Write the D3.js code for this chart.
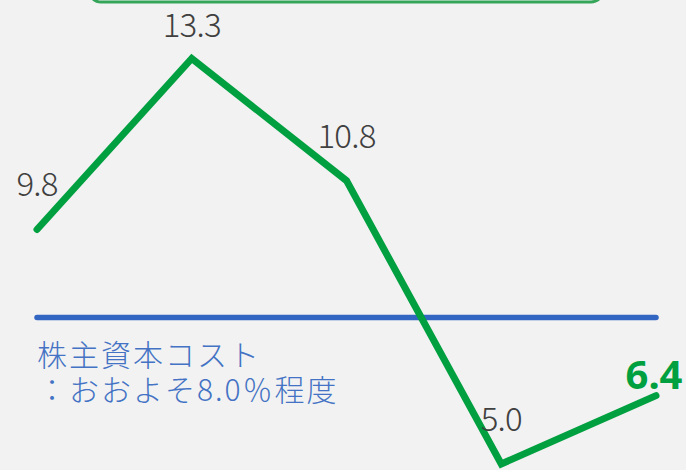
<!DOCTYPE html>
<html><head><meta charset="utf-8">
<script src="https://cdn.jsdelivr.net/npm/d3@7/dist/d3.min.js"></script>
<style>
html,body{margin:0;padding:0;background:#f2f2f2;}
svg{display:block;}
</style></head>
<body>
<script>
const categories = ["P1","P2","P3","P4","P5"];
const values = [9.8, 13.3, 10.8, 5.0, 6.4];
const labels = ["9.8","13.3","10.8","5.0","6.4"];
const costOfEquity = 8.0;
const costLabelLines = ["株主資本コスト","：おおよそ8.0％程度"];

const W = 686, H = 470;
const svg = d3.select("body").append("svg").attr("width", W).attr("height", H);
svg.append("rect").attr("width", W).attr("height", H).attr("fill", "#f2f2f2");

const x = d3.scalePoint().domain(categories).range([37, 656]);
const y = d3.scaleLinear().domain([5, 13.3]).range([464, 58.5]);

// partially visible rounded box at top
svg.append("rect").attr("x", 89).attr("y", -40).attr("width", 514).attr("height", 42)
  .attr("rx", 12).attr("fill", "none").attr("stroke", "#35a55a").attr("stroke-width", 3);

// cost of equity line
svg.append("line")
  .attr("x1", x(categories[0])).attr("x2", x(categories[categories.length-1]))
  .attr("y1", y(costOfEquity)).attr("y2", y(costOfEquity))
  .attr("stroke", "#3366c2").attr("stroke-width", 5.5).attr("stroke-linecap", "round");

svg.selectAll("text.cost").data(costLabelLines).join("text").attr("class", "cost")
  .attr("x", 37).attr("y", (d, i) => 366 + i * 35)
  .attr("fill", "#4472c4")
  .attr("font-family", "'Noto Sans CJK JP', sans-serif").attr("font-size", 30)
  .attr("font-weight", 300).attr("letter-spacing", 2)
  .text(d => d);

// ROE line
const line = d3.line().x((d, i) => x(categories[i])).y(d => y(d));
svg.append("path").datum(values).attr("d", line)
  .attr("fill", "none").attr("stroke", "#00a040").attr("stroke-width", 7)
  .attr("stroke-linecap", "round").attr("stroke-linejoin", "miter");

// data labels
const last = values.length - 1;
svg.selectAll("text.lbl").data(values).join("text").attr("class", "lbl")
  .attr("x", (d, i) => x(categories[i]) - (i === last ? 2 : 0))
  .attr("y", (d, i) => i === last ? y(d) - 7 : Math.max(y(d) - 33, 37))
  .attr("text-anchor", "middle")
  .attr("font-family", (d, i) => i === last ? "'Noto Sans', sans-serif" : "'Noto Sans CJK JP', sans-serif")
  .attr("font-size", (d, i) => i === last ? 40 : 33)
  .attr("font-weight", (d, i) => i === last ? 700 : 300)
  .attr("fill", (d, i) => i === last ? "#00a040" : "#404040")
  .attr("letter-spacing", (d, i) => i === last ? 0 : -0.8)
  .text((d, i) => labels[i]);
</script>
</body></html>
